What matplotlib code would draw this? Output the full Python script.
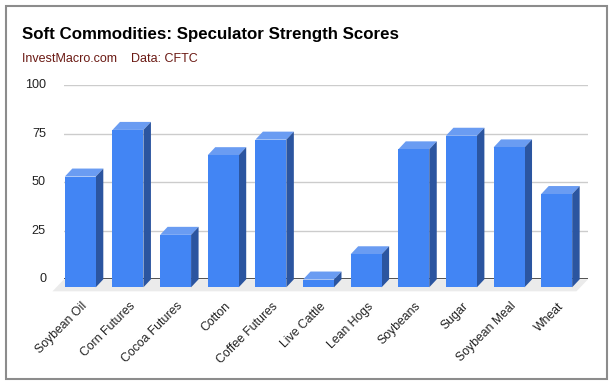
import matplotlib
matplotlib.use("Agg")
import matplotlib.pyplot as plt
from matplotlib.patches import Polygon, Rectangle
import numpy as np

categories = ["Soybean Oil", "Corn Futures", "Cocoa Futures", "Cotton", "Coffee Futures",
              "Live Cattle", "Lean Hogs", "Soybeans", "Sugar", "Soybean Meal", "Wheat"]
scores = [57, 81, 27, 68, 76, 4, 17, 71, 78, 72, 48]
yticks = [0, 25, 50, 75, 100]
title = "Soft Commodities: Speculator Strength Scores"
subtitle = "InvestMacro.com    Data: CFTC"

W, H = 615, 386
fig = plt.figure(figsize=(W / 100, H / 100), dpi=100)
fig.patch.set_facecolor("white")
plt.rcParams["font.family"] = ["Liberation Sans", "DejaVu Sans"]

# outer frame
fig.add_artist(Rectangle((6 / W, 1 - 378.5 / H), 600.5 / W, 373 / H,
                         transform=fig.transFigure, fill=False, edgecolor="#8c8c8c", lw=1.5))

x0, x1 = 64, 588
ytop, ybot = 85, 279.3
ax = fig.add_axes([x0 / W, 1 - ybot / H, (x1 - x0) / W, (ybot - ytop) / H])
n = len(categories)
ax.set_xlim(0, n)
ax.set_ylim(0, 100)
ax.axis("off")

px_x = n / (x1 - x0)          # data units per pixel (x)
px_y = 100 / (ybot - ytop)    # data units per pixel (y)

# gridlines and y labels
for t in yticks:
    if t > 0:
        ax.plot([0, n], [t, t], color="#cccccc", lw=1, zorder=1)
    ax.text(-18 * px_x, t, str(t), ha="right", va="center", fontsize=9.1, color="#222222")

# floor
fdx, fdy = -11.5 * px_x, -12 * px_y
floor = Polygon([(0, 0), (n, 0), (n + fdx, fdy), (fdx, fdy)], closed=True,
                facecolor="#ebebeb", edgecolor="none", zorder=1, clip_on=False)
ax.add_patch(floor)
ax.plot([0, n], [0, 0], color="#333333", lw=1.2, zorder=2, solid_capstyle="butt")

# 3D bars
bw = 0.65
ddx, ddy = -7.5 * px_x, -8 * px_y
front_c, top_c, side_c = "#4285f4", "#6a9cf2", "#2b55a0"
for i, v in enumerate(scores):
    c = i + 0.5
    bl, br = c - bw / 2, c + bw / 2
    fl, fr = bl + ddx, br + ddx
    fb, ft = ddy, v + ddy
    top = Polygon([(fl, ft), (fr, ft), (br, v), (bl, v)], closed=True,
                  facecolor=top_c, edgecolor="none", zorder=3, clip_on=False)
    side = Polygon([(fr, fb), (br, 0), (br, v), (fr, ft)], closed=True,
                   facecolor=side_c, edgecolor="none", zorder=3, clip_on=False)
    front = Polygon([(fl, fb), (fr, fb), (fr, ft), (fl, ft)], closed=True,
                    facecolor=front_c, edgecolor="none", zorder=4, clip_on=False)
    ax.add_patch(top)
    ax.add_patch(side)
    ax.add_patch(front)
    ax.text(c + ddx + 1 * px_x, -21 * px_y, categories[i], rotation=45,
            rotation_mode="anchor", ha="right", va="top", fontsize=8.8, color="#222222")

fig.text(22 / W, 1 - 35 / H, title, fontsize=12.2, fontweight="bold", color="black",
         ha="left", va="center")
fig.text(22 / W, 1 - 59.5 / H, subtitle, fontsize=9.0, color="#6b1a14",
         ha="left", va="center")

fig.savefig("out.png", dpi=100, facecolor="white")
